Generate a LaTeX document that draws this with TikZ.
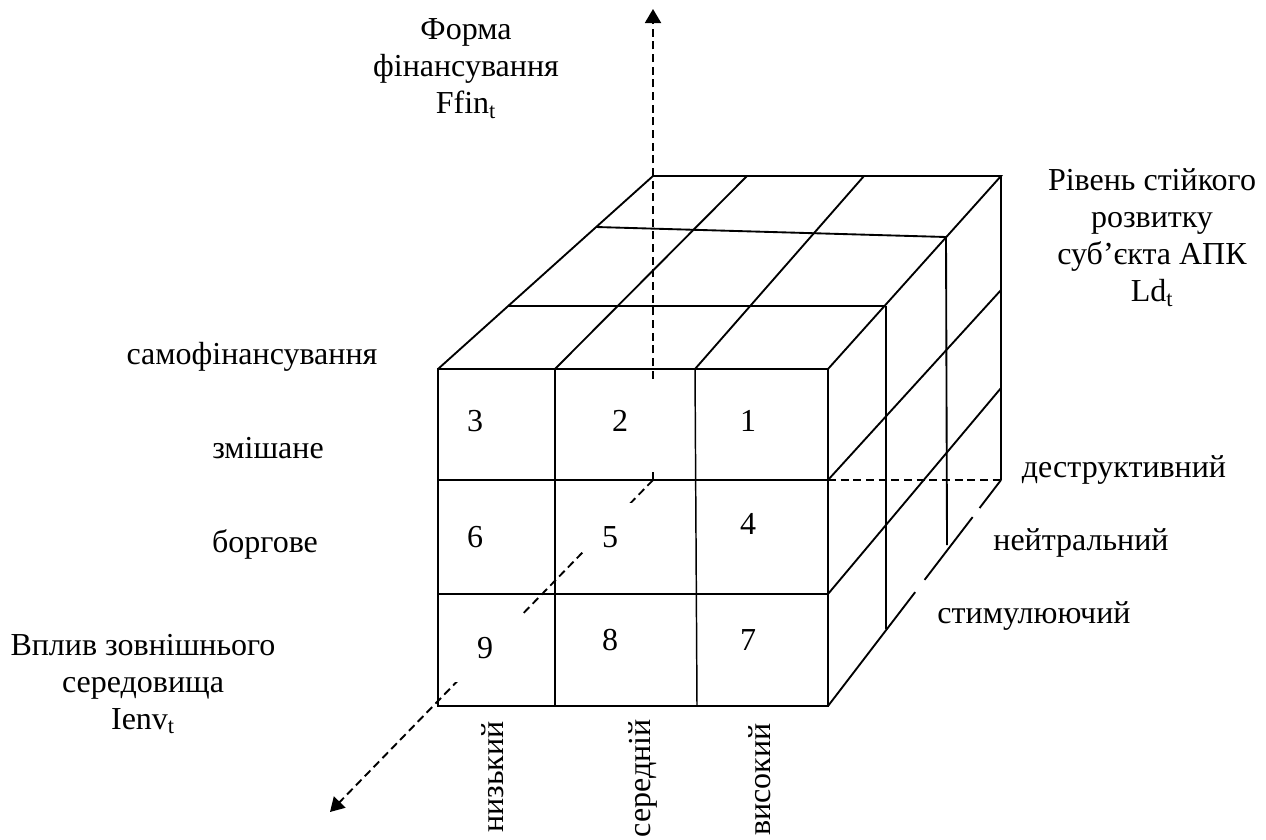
\documentclass[tikz,border=0pt]{standalone}
\usepackage{fontspec}
\setmainfont{Liberation Serif}
\usetikzlibrary{arrows.meta,calc}
\begin{document}
\begin{tikzpicture}[x=0.75pt,y=-0.75pt,
  edge/.style={line width=1.4pt},
  boldedge/.style={line width=2.2pt},
  thinedge/.style={line width=1.1pt},
  dashline/.style={line width=1.4pt,dash pattern=on 6pt off 3.5pt},
  axis/.style={dashline,-{Triangle[length=10.5pt,width=12pt]}},
  lbl/.style={font=\fontsize{24}{27.75}\selectfont,inner sep=0pt,align=center},
  num/.style={lbl,anchor=base},
  mask/.style={fill=white}
  ]
\useasboundingbox (0,0) rectangle (1266,839);
% corner coordinates
\coordinate (A) at (438,369);
\coordinate (B) at (828,369);
\coordinate (C) at (828,706);
\coordinate (D) at (438,706);
\coordinate (E) at (653,176);
\coordinate (F) at (1001,176);
\coordinate (G) at (1001,480);
\coordinate (a1) at (555,369);
\coordinate (a2) at (695,369);
\coordinate (d1) at (555,706);
\coordinate (d2) at (697,706);
\coordinate (l1) at (438,480);
\coordinate (l2) at (438,594);
\coordinate (r1) at (828,480);
\coordinate (r2) at (828,594);
\coordinate (e1) at (747,176);
\coordinate (e2) at (864,176);
\coordinate (m1) at (508,306);
\coordinate (m2) at (886,306);
\coordinate (n1) at (596,227);
\coordinate (n2) at (946,237);
\coordinate (g1) at (1001,290);
\coordinate (g2) at (1001,388);
\coordinate (p1) at (886,629);
\coordinate (p2) at (947,545);
\coordinate (O) at (653,480);
\coordinate (U) at (653,9);
\coordinate (W) at (330,812);
% axes
\draw[axis] (O) -- (U);
\draw[axis] (O) -- (W);
% white text-box masks
\fill[mask] (585,382) rectangle (658,472);
\fill[mask] (575,503) rectangle (640,552);
\fill[mask] (450,615) rectangle (525,682);
% cell numbers
\node[num] (c3) at (475,431) {3};
\node[num] (c2) at (620,431) {2};
\node[num] (c1) at (748,431) {1};
\node[num] (c6) at (475,547) {6};
\node[num] (c5) at (610,547) {5};
\node[num] (c4) at (748,534) {4};
\node[num] (c9) at (485,658) {9};
\node[num] (c8) at (610,650) {8};
\node[num] (c7) at (748,650) {7};
% front face
\draw[edge] (A) -- (B) -- (C) -- (D) -- cycle;
\draw[edge] (a1) -- (d1);
\draw[thinedge] (a2) -- (d2);
\draw[boldedge] (l1) -- (r1);
\draw[boldedge] (l2) -- (r2);
% top face
\draw[edge] (A) -- (E) -- (F) -- (B);
\draw[edge] (a1) -- (e1);
\draw[edge] (a2) -- (e2);
\draw[boldedge] (m1) -- (m2);
\draw[edge] (n1) -- (n2);
% right face
\draw[edge] (F) -- (G);
\draw[edge] (m2) -- (p1);
\draw[edge] (n2) -- (p2);
\draw[edge] (r1) -- (g1);
\draw[edge] (r2) -- (g2);
\draw[dashline] (r1) -- (G);
\draw[edge] (G) -- ($(G)!0.124!(C)$);
\draw[edge] ($(G)!0.164!(C)$) -- ($(G)!0.442!(C)$);
\draw[edge] ($(G)!0.496!(C)$) -- (C);
% labels
\node[lbl] (ffin) at (466,69) {Форма\\фінансування\\Ffin\textsubscript{t}};
\node[lbl] (ld) at (1152,238) {Рівень стійкого\\розвитку\\суб’єкта АПК\\Ld\textsubscript{t}};
\node[lbl] (ienv) at (143,684) {Вплив зовнішнього\\середовища\\Ienv\textsubscript{t}};
\node[lbl,anchor=base] (samo) at (252,364) {самофінансування};
\node[lbl,anchor=base] (zmish) at (268,458) {змішане};
\node[lbl,anchor=base] (borg) at (265,552) {боргове};
\node[lbl,anchor=base] (destr) at (1124,477) {деструктивний};
\node[lbl,anchor=base] (neutr) at (1081,550) {нейтральний};
\node[lbl,anchor=base] (stym) at (1034,623) {стимулюючий};
\node[lbl,rotate=90,anchor=base east] (low) at (503,721) {низький};
\node[lbl,rotate=90,anchor=base east] (mid) at (650,719) {середній};
\node[lbl,rotate=90,anchor=base east] (high) at (770,723) {високий};
\end{tikzpicture}
\end{document}
